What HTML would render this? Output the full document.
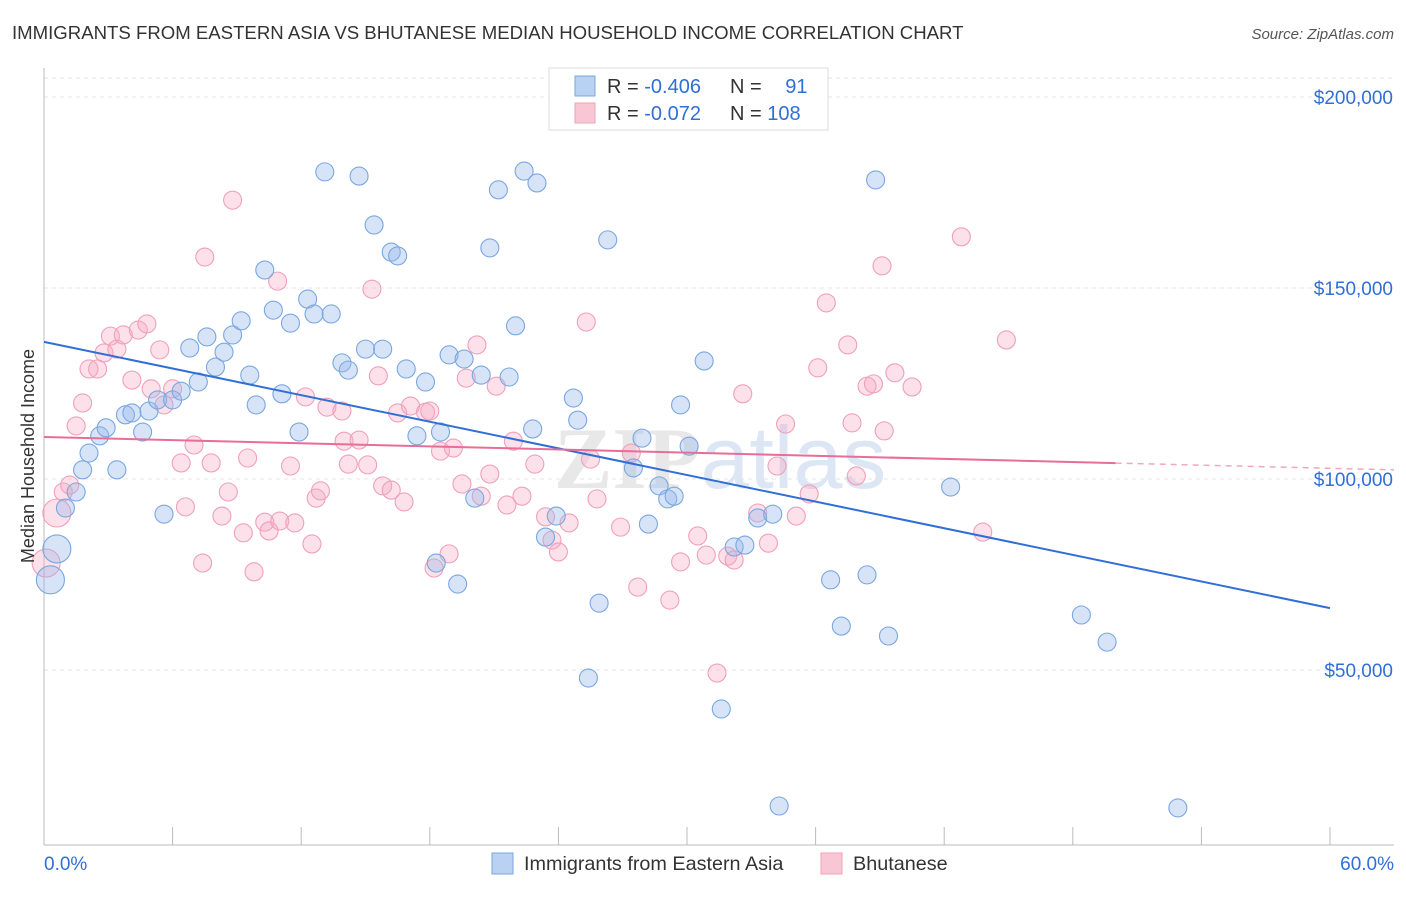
<!DOCTYPE html>
<html><head><meta charset="utf-8">
<style>
body{margin:0;background:#fff;font-family:"Liberation Sans",sans-serif;}
svg text{font-family:"Liberation Sans",sans-serif;}
</style></head>
<body>
<svg id="chart" width="1406" height="892" xmlns="http://www.w3.org/2000/svg">
<text x="12" y="39" font-size="18.6" fill="#333">IMMIGRANTS FROM EASTERN ASIA VS BHUTANESE MEDIAN HOUSEHOLD INCOME CORRELATION CHART</text>
<text x="1394" y="39" font-size="15" fill="#555" text-anchor="end" font-style="italic">Source: ZipAtlas.com</text>
<text x="720" y="488" font-size="88" fill="#e8e8e8" text-anchor="middle" font-weight="bold"><tspan font-family="Liberation Serif">ZIP</tspan><tspan fill="#dce6f5" font-weight="normal">atlas</tspan></text>
<g id="grid"></g>
<g id="axes"></g>
<g id="pts"></g>
<g id="lines"></g>
<text transform="translate(34,456) rotate(-90)" font-size="18" fill="#333" text-anchor="middle">Median Household Income</text>
<g>
<rect x="549" y="68" width="279" height="62" fill="#fff" stroke="#ddd"/>
<rect x="575" y="76" width="20" height="20" fill="#b9d1f2" stroke="#7aa7e0"/>
<rect x="575" y="103" width="20" height="20" fill="#f8c6d4" stroke="#f0a0b8"/>
<text x="607" y="93" font-size="20" fill="#333">R = <tspan fill="#2f6fd6">-0.406</tspan></text>
<text x="730" y="93" font-size="20" fill="#333">N = <tspan fill="#2f6fd6" dx="18">91</tspan></text>
<text x="607" y="120" font-size="20" fill="#333">R = <tspan fill="#2f6fd6">-0.072</tspan></text>
<text x="730" y="120" font-size="20" fill="#333">N = <tspan fill="#2f6fd6">108</tspan></text>
</g>
<g>
<rect x="492" y="853" width="21" height="21" fill="#b9d1f2" stroke="#7aa7e0"/>
<text x="524" y="870" font-size="19.8" fill="#333">Immigrants from Eastern Asia</text>
<rect x="821" y="853" width="21" height="21" fill="#f8c6d4" stroke="#f0a0b8"/>
<text x="853" y="870" font-size="19.8" fill="#333">Bhutanese</text>
</g>
</svg>
<script>
const blueX=[0.3,0.6,1.0,1.5,1.8,2.1,2.6,2.9,3.4,3.8,4.1,4.6,4.9,5.3,5.6,6.0,6.4,6.8,7.2,7.6,8.0,8.4,8.8,9.2,9.6,9.9,10.3,10.7,11.1,11.5,11.9,12.3,12.6,13.1,13.4,13.9,14.2,14.7,15.0,15.4,15.8,16.2,16.5,16.9,17.4,17.8,18.3,18.5,18.9,19.3,19.6,20.1,20.4,20.8,21.2,21.7,22.0,22.4,22.8,23.0,23.4,23.9,24.7,24.9,25.9,25.4,26.3,27.5,27.9,28.2,28.7,29.1,29.4,29.7,30.1,30.8,31.6,32.2,32.7,33.3,34.0,34.3,36.7,37.2,38.4,38.8,39.4,42.3,48.4,49.6,52.9];
const blueY=[73.6,81.7,92.4,96.6,102.4,106.8,111.3,113.4,102.4,116.8,117.3,112.3,117.8,120.7,90.8,120.7,123.0,134.3,125.4,137.2,129.3,133.2,137.7,141.4,127.2,119.4,154.7,144.2,122.3,140.8,112.3,147.1,143.2,180.4,143.2,130.4,128.5,179.3,134.0,166.5,134.0,159.4,158.4,128.8,111.3,125.4,78.0,112.3,132.5,72.5,131.4,95.0,127.2,160.5,175.7,126.7,140.1,180.6,113.1,177.5,84.8,90.3,121.2,115.4,67.5,47.9,162.6,102.9,110.7,88.2,98.2,94.8,95.5,119.4,108.6,130.9,39.8,82.2,82.7,89.8,90.8,14.4,73.6,61.5,74.9,178.3,58.9,97.9,64.4,57.3,13.9];
const pinkX=[0.1,0.6,0.9,1.2,1.5,1.8,2.1,2.5,2.8,3.1,3.4,3.7,4.1,4.4,4.8,5.0,5.4,5.6,6.0,6.4,6.6,7.0,7.4,7.5,7.8,8.3,8.6,8.8,9.3,9.5,9.8,10.3,10.5,10.9,11.0,11.5,11.7,12.2,12.5,12.7,12.9,13.2,13.9,14.0,14.2,14.7,15.1,15.3,15.6,15.8,16.2,16.5,16.8,17.1,17.8,18.0,18.2,18.5,18.9,19.1,19.5,19.7,20.2,20.4,20.8,21.1,21.6,21.9,22.3,22.9,23.4,23.7,24.0,24.5,25.3,25.5,25.8,26.9,27.4,27.7,29.2,29.7,30.5,30.9,31.4,31.9,32.2,32.6,33.3,33.8,34.2,34.6,35.1,35.7,36.5,36.1,37.5,37.7,37.9,38.4,38.7,39.1,39.2,39.7,40.5,42.8,43.8,44.9];
const pinkY=[78.0,91.1,96.6,98.4,113.9,119.9,128.8,128.8,133.0,137.4,134.0,137.7,125.9,139.0,140.6,123.6,133.8,119.4,123.6,104.2,92.7,108.9,78.0,158.1,104.2,90.3,96.6,173.0,85.9,105.5,75.7,88.7,86.4,151.8,89.0,103.4,88.5,121.5,83.0,95.0,96.9,118.8,117.8,109.9,103.9,110.2,103.7,149.7,127.0,98.2,97.1,117.3,94.0,119.1,117.5,117.8,76.7,107.3,80.4,108.1,98.7,126.4,135.1,95.5,101.3,124.3,93.2,109.9,95.5,103.9,90.1,84.0,80.9,88.5,141.1,105.2,94.8,87.4,106.8,71.7,68.3,78.3,85.1,80.1,49.2,79.8,78.8,122.3,91.1,83.2,103.4,114.4,90.3,96.1,146.1,129.1,135.1,114.7,100.8,124.3,124.9,155.8,112.6,127.8,124.1,163.4,86.1,136.4];
const blueTrend=[135.9,66.2];   // at 0% and 60%
const pinkTrend=[111.0,102.8];  // at 0% and 60% (solid to 50%)
const yTicks=[50,100,150,200];
const yTickLabels=["$50,000","$100,000","$150,000","$200,000"];
const xTickPcts=[0,6,12,18,24,30,36,42,48,54,60];

const NS="http://www.w3.org/2000/svg";
const X=p=>44+p*(1286/60);
const Y=v=>479-(v-100)*(191/50);
function mk(tag,attrs,parent){const e=document.createElementNS(NS,tag);for(const k in attrs)e.setAttribute(k,attrs[k]);parent.appendChild(e);return e;}
const grid=document.getElementById('grid'),axes=document.getElementById('axes'),pts=document.getElementById('pts'),lines=document.getElementById('lines');
let gl=mk('line',{x1:44,x2:1394,y1:78,y2:78,stroke:'#e6e6e6','stroke-dasharray':'4,4'},grid);


yTicks.forEach((v,i)=>{
 const l=mk('line',{x1:44,x2:1394,y1:Y(v),y2:Y(v),stroke:'#e6e6e6','stroke-dasharray':'4,4'},grid);
 
 
 const t=mk('text',{x:1393,y:Y(v)+7,'font-size':19,fill:'#2f6fd6','text-anchor':'end'},axes);
 t.textContent=yTickLabels[i];
 
 
});
let a1=mk('line',{x1:44,x2:44,y1:68,y2:845,stroke:'#bbb'},axes);


let a2=mk('line',{x1:44,x2:1394,y1:845,y2:845,stroke:'#bbb'},axes);


xTickPcts.forEach(p=>{
 const l=mk('line',{x1:X(p),x2:X(p),y1:827,y2:845,stroke:'#bbb'},axes);
 
 
});
let xl0=mk('text',{x:44,y:870,'font-size':19,fill:'#2f6fd6'},axes);xl0.textContent='0.0%';


let xl1=mk('text',{x:1394,y:870,'font-size':19,fill:'#2f6fd6','text-anchor':'end'},axes);xl1.textContent='60.0%';



pinkX.forEach((p,i)=>{
 const c=mk('circle',{cx:X(p),cy:Y(pinkY[i]),r:i<2?14:9,fill:'rgba(245,170,195,0.35)',stroke:'#f0a0b8','stroke-width':1.1},pts);
 
 
});
blueX.forEach((p,i)=>{
 const c=mk('circle',{cx:X(p),cy:Y(blueY[i]),r:i<2?14:9,fill:'rgba(150,185,235,0.38)',stroke:'#7aa7e0','stroke-width':1.1},pts);
 
 
});
let bl=mk('line',{x1:X(0),y1:Y(blueTrend[0]),x2:X(60),y2:Y(blueTrend[1]),stroke:'#2f6fd6','stroke-width':2},lines);


const pm=pinkTrend[0]+(pinkTrend[1]-pinkTrend[0])*(50/60);
let pl=mk('line',{x1:X(0),y1:Y(pinkTrend[0]),x2:X(50),y2:Y(pm),stroke:'#e86d98','stroke-width':2},lines);


const slope=(pinkTrend[1]-pinkTrend[0])/60;
let pd=mk('line',{x1:X(50),y1:Y(pm),x2:1394,y2:Y(pinkTrend[0]+slope*((1394-44)*60/1286)),stroke:'#e86d98','stroke-width':1.5,'stroke-dasharray':'6,5',opacity:0.6},lines);


</script>
</body></html>
